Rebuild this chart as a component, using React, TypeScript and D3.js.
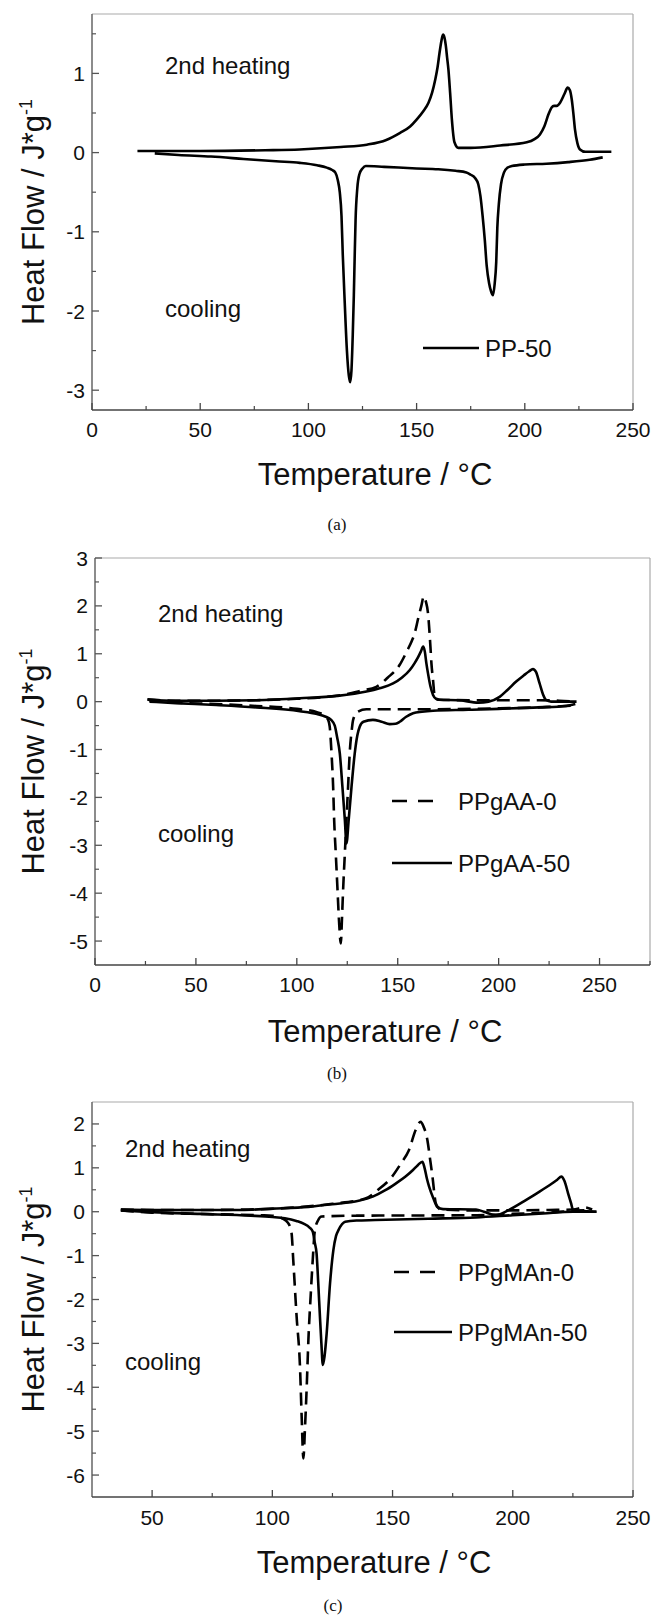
import React from 'react';
import * as d3 from 'd3';

// ---- panel (a): PP-50 ----
const ppHeatT = [21, 50, 80, 96, 115, 127, 136, 142.4, 147, 150.1, 153, 155.5, 157.2, 158.6, 159.7, 160.6, 161.4, 162.2, 162.9, 163.5, 164.1, 164.7, 165.5, 166.3, 167.5, 169.3, 175, 188.6, 200.9, 204.5, 207, 209, 210.9, 212.4, 213.5, 214.8, 216.3, 218.3, 219.8, 220.8, 221.7, 222.5, 223.2, 224.3, 225.5, 228, 240];
const ppHeatHF = [0.02, 0.02, 0.03, 0.04, 0.07, 0.1, 0.16, 0.25, 0.33, 0.42, 0.52, 0.63, 0.76, 0.92, 1.08, 1.26, 1.4, 1.49, 1.45, 1.35, 1.2, 1.05, 0.75, 0.42, 0.13, 0.06, 0.06, 0.09, 0.13, 0.17, 0.23, 0.33, 0.48, 0.57, 0.59, 0.59, 0.63, 0.74, 0.82, 0.79, 0.67, 0.48, 0.29, 0.12, 0.04, 0.01, 0.01];
const ppCoolT = [29, 40, 55, 70, 85, 96, 104, 108.5, 111, 112.4, 113.6, 114.5, 115.3, 115.9, 116.8, 117.8, 118.7, 119.3, 119.9, 120.5, 121, 121.4, 121.8, 122.6, 123.6, 125, 126.5, 135, 150, 160, 168, 173, 175, 177, 178.5, 179.5, 180.5, 181.5, 182.4, 183.5, 184.5, 185.3, 186.1, 186.8, 187.3, 188, 189, 190.4, 192, 194, 200, 210, 220, 230, 236];
const ppCoolHF = [-0.01, -0.03, -0.05, -0.08, -0.11, -0.13, -0.16, -0.19, -0.22, -0.25, -0.35, -0.5, -0.8, -1.3, -1.9, -2.5, -2.82, -2.9, -2.75, -2.3, -1.8, -1.3, -0.85, -0.45, -0.27, -0.2, -0.17, -0.18, -0.2, -0.21, -0.23, -0.25, -0.28, -0.32, -0.4, -0.55, -0.8, -1.1, -1.43, -1.65, -1.76, -1.8, -1.65, -1.38, -0.95, -0.65, -0.4, -0.25, -0.19, -0.17, -0.15, -0.14, -0.12, -0.09, -0.06];

// ---- panel (b): PPgAA-0 (dashed) / PPgAA-50 (solid) ----
const aa50HeatT = [26, 40, 60, 80, 101.5, 120, 134.5, 141, 147.7, 152, 156, 158.3, 160.1, 161.5, 162.6, 163.4, 164.2, 165, 166.2, 167.5, 169, 170.8, 180, 190, 195, 200.5, 204.5, 208.7, 212.5, 215, 217, 218.5, 220.3, 222, 223.4, 226, 238.6];
const aa50HeatHF = [0.04, 0.02, 0.02, 0.03, 0.07, 0.12, 0.21, 0.28, 0.38, 0.5, 0.66, 0.8, 0.93, 1.05, 1.15, 1.05, 0.8, 0.59, 0.32, 0.14, 0.06, 0.04, 0.03, -0.02, 0.0, 0.1, 0.25, 0.42, 0.55, 0.63, 0.68, 0.62, 0.38, 0.15, 0.04, 0.0, 0.0];
const aa0HeatT = [26, 40, 60, 80, 100, 115, 125, 132, 139.4, 145, 151, 154.5, 156.8, 158.4, 160.2, 161.7, 162.9, 163.9, 165, 166.2, 166.7, 167.5, 168.3, 170, 185, 200, 220, 230, 238];
const aa0HeatHF = [0.05, 0.02, 0.02, 0.03, 0.06, 0.1, 0.16, 0.23, 0.31, 0.5, 0.77, 1.05, 1.25, 1.43, 1.75, 2.0, 2.2, 2.1, 1.85, 1.15, 0.8, 0.45, 0.12, 0.04, 0.03, 0.03, 0.03, 0.02, 0.0];
const aa50CoolT = [27, 40, 60, 80, 101.5, 110, 114, 117, 118.8, 120, 121.3, 122.6, 123.8, 124.6, 125.7, 127.1, 128.7, 130, 131.2, 133, 137.7, 142, 146, 149, 151, 154, 157.6, 162, 167.5, 185, 200, 220, 233.5, 238];
const aa50CoolHF = [0.0, -0.03, -0.07, -0.12, -0.2, -0.26, -0.31, -0.38, -0.5, -0.75, -1.08, -1.78, -2.47, -2.96, -2.47, -1.78, -1.08, -0.7, -0.52, -0.42, -0.38, -0.42, -0.47, -0.46, -0.42, -0.32, -0.24, -0.21, -0.19, -0.17, -0.15, -0.12, -0.09, -0.05];
const aa0CoolT = [27, 40, 60, 80, 100, 110, 114, 115.5, 116.3, 117.2, 118, 118.5, 119.3, 120.1, 120.9, 121.8, 122.4, 123, 123.8, 124.6, 125.4, 126.2, 127.2, 127.9, 130.3, 134.5, 159.3, 200.5, 225, 237];
const aa0CoolHF = [0.02, -0.02, -0.05, -0.09, -0.15, -0.22, -0.3, -0.38, -0.52, -1.08, -1.78, -2.47, -3.17, -3.87, -4.57, -5.05, -4.5, -3.87, -3.17, -2.47, -1.78, -1.08, -0.6, -0.38, -0.21, -0.16, -0.16, -0.14, -0.11, -0.08];

// ---- panel (c): PPgMAn-0 (dashed) / PPgMAn-50 (solid) ----
const man50HeatT = [37, 50, 70, 87, 100, 115, 125, 135.9, 142, 147, 151, 155.4, 158.5, 160.5, 162.4, 163.3, 164.3, 165.2, 167, 168.6, 171, 184.7, 188, 193, 198, 205.6, 210, 215.4, 218.5, 220.2, 221.5, 223, 224.2, 225.1, 228, 234.8];
const man50HeatHF = [0.05, 0.04, 0.04, 0.04, 0.07, 0.11, 0.17, 0.25, 0.35, 0.49, 0.63, 0.8, 0.95, 1.06, 1.14, 1.0, 0.75, 0.57, 0.3, 0.11, 0.06, 0.05, 0.0, -0.08, 0.03, 0.27, 0.42, 0.61, 0.73, 0.8, 0.7, 0.42, 0.2, 0.04, 0.02, 0.0];
const man0HeatT = [37, 50, 70, 90, 110, 125, 138.7, 144, 149.8, 153.5, 156.8, 159.6, 161.7, 162.8, 164.5, 165.6, 166.6, 168, 170, 185, 200, 215, 225, 230, 233];
const man0HeatHF = [0.05, 0.04, 0.04, 0.05, 0.1, 0.18, 0.3, 0.5, 0.8, 1.1, 1.4, 1.86, 2.05, 1.95, 1.63, 1.2, 0.8, 0.19, 0.05, 0.03, 0.03, 0.04, 0.05, 0.1, 0.05];
const man50CoolT = [37, 50, 70, 91, 100, 105.2, 110, 113, 115.5, 116.8, 117.7, 118.4, 119.1, 119.8, 120.4, 121, 121.7, 122.6, 124, 125.4, 126.5, 127.5, 130.3, 135, 142.8, 165, 184.7, 200, 212.6, 225, 234.8];
const man50CoolHF = [0.03, -0.01, -0.05, -0.09, -0.12, -0.15, -0.21, -0.27, -0.36, -0.45, -0.72, -0.95, -1.63, -2.39, -3.0, -3.49, -3.3, -2.77, -1.63, -0.87, -0.55, -0.42, -0.23, -0.2, -0.19, -0.16, -0.13, -0.08, -0.04, 0.0, 0.0];
const man0CoolT = [37, 50, 70, 95, 100, 104, 106.6, 108, 108.7, 110.1, 111.5, 112.2, 112.9, 113.6, 114.3, 115, 116, 116.8, 117.7, 119, 120.5, 135, 185, 200, 215, 230, 233];
const man0CoolHF = [0.03, -0.02, -0.05, -0.08, -0.09, -0.15, -0.26, -0.49, -1.1, -2.39, -3.53, -4.67, -5.62, -4.9, -3.99, -2.92, -1.86, -1.1, -0.42, -0.2, -0.11, -0.09, -0.08, -0.05, -0.02, 0.03, 0.0];

// ---- ticks ----
const xTicksAB = ['0', '50', '100', '150', '200', '250'];
const xTicksC = ['50', '100', '150', '200', '250'];
const yTicksA = ['-3', '-2', '-1', '0', '1'];
const yTicksB = ['-5', '-4', '-3', '-2', '-1', '0', '1', '2', '3'];
const yTicksC = ['-6', '-5', '-4', '-3', '-2', '-1', '0', '1', '2'];

const FONT = "'Liberation Sans', Arial, Helvetica, sans-serif";
const DASH = '13,7';

type Series = { t: number[]; hf: number[]; dashed: boolean };
type LegendItem = { label: string; dashed: boolean; x1: number; x2: number; tx: number; y: number };

type PanelProps = {
  left: number; right: number; top: number; bottom: number;
  xDomain: [number, number]; yDomain: [number, number];
  xTicks: string[]; yTicks: string[];
  series: Series[];
  legend: LegendItem[];
  heatPos: [number, number]; coolPos: [number, number];
  xTickY: number; xTitle: [number, number]; caption: [string, number, number];
};

const Panel = (p: PanelProps) => {
  const x = d3.scaleLinear().domain(p.xDomain).range([p.left, p.right]);
  const y = d3.scaleLinear().domain(p.yDomain).range([p.bottom, p.top]);
  const line = d3.line<[number, number]>()
    .x(d => x(d[0]))
    .y(d => y(d[1]))
    .curve(d3.curveMonotoneX);

  const xMinor = d3.range(Math.ceil(p.xDomain[0] / 25) * 25, p.xDomain[1] + 0.01, 25)
    .filter(v => v % 50 !== 0 && v > p.xDomain[0]);
  const yMinor = d3.range(Math.ceil(p.yDomain[0] * 2) / 2, p.yDomain[1] + 0.01, 0.5)
    .filter(v => v % 1 !== 0 && v > p.yDomain[0] && v < p.yDomain[1]);
  const midY = (p.top + p.bottom) / 2;

  return (
    <g>
      {/* frame */}
      <line x1={p.left} x2={p.right} y1={p.top} y2={p.top} stroke="#aaa" strokeWidth={1.2} />
      <line x1={p.right} x2={p.right} y1={p.top} y2={p.bottom} stroke="#aaa" strokeWidth={1.2} />
      <line x1={p.left} x2={p.left} y1={p.top} y2={p.bottom} stroke="#666" strokeWidth={1.5} />
      <line x1={p.left} x2={p.right} y1={p.bottom} y2={p.bottom} stroke="#444" strokeWidth={1.5} />

      {/* x ticks */}
      {p.xTicks.map(t => (
        <g key={'xt' + t}>
          <line x1={x(+t)} x2={x(+t)} y1={p.bottom} y2={p.bottom - 7} stroke="#444" strokeWidth={1.3} />
          <text x={x(+t)} y={p.xTickY} textAnchor="middle" fontSize={21} fontFamily={FONT} fill="#111">{t}</text>
        </g>
      ))}
      {xMinor.map(v => (
        <line key={'xm' + v} x1={x(v)} x2={x(v)} y1={p.bottom} y2={p.bottom - 4} stroke="#444" strokeWidth={1.2} />
      ))}

      {/* y ticks */}
      {p.yTicks.map(t => (
        <g key={'yt' + t}>
          <line x1={p.left} x2={p.left + 7} y1={y(+t)} y2={y(+t)} stroke="#555" strokeWidth={1.3} />
          <text x={p.left - 7} y={y(+t) + 7.5} textAnchor="end" fontSize={21} fontFamily={FONT} fill="#111">{t}</text>
        </g>
      ))}
      {yMinor.map(v => (
        <line key={'ym' + v} x1={p.left} x2={p.left + 4} y1={y(v)} y2={y(v)} stroke="#555" strokeWidth={1.2} />
      ))}

      {/* curves */}
      {p.series.map((s, i) => (
        <path key={'s' + i}
          d={line(s.t.map((t, j) => [t, s.hf[j]] as [number, number])) || ''}
          fill="none" stroke="#000" strokeWidth={2.6}
          strokeDasharray={s.dashed ? DASH : undefined}
          strokeLinejoin="round" />
      ))}

      {/* annotations */}
      <text x={p.heatPos[0]} y={p.heatPos[1]} fontSize={24} fontFamily={FONT} fill="#111">2nd heating</text>
      <text x={p.coolPos[0]} y={p.coolPos[1]} fontSize={24} fontFamily={FONT} fill="#111">cooling</text>

      {/* legend */}
      {p.legend.map(l => (
        <g key={l.label}>
          <line x1={l.x1} x2={l.x2} y1={l.y} y2={l.y} stroke="#000" strokeWidth={2.6}
            strokeDasharray={l.dashed ? '15,11' : undefined} />
          <text x={l.tx} y={l.y + 8.5} fontSize={24} fontFamily={FONT} fill="#111">{l.label}</text>
        </g>
      ))}

      {/* axis titles */}
      <text x={p.xTitle[0]} y={p.xTitle[1]} textAnchor="middle" fontSize={31} fontFamily={FONT} fill="#111">Temperature / °C</text>
      <text transform={`translate(44,${midY}) rotate(-90)`} textAnchor="middle" fontSize={31} fontFamily={FONT} fill="#111">
        Heat Flow / J*g<tspan dy={-12} fontSize={18}>-1</tspan>
      </text>

      {/* caption */}
      <text x={p.caption[1]} y={p.caption[2]} textAnchor="middle" fontSize={17} fontFamily="'Liberation Serif', 'Times New Roman', serif" fill="#111">{p.caption[0]}</text>
    </g>
  );
};

export default function App() {
  return (
    <svg width={652} height={1615} style={{ position: 'absolute', left: 0, top: 0, background: '#fff' }}>
      <Panel
        left={92} right={633} top={14} bottom={410}
        xDomain={[0, 250]} yDomain={[-3.25, 1.75]}
        xTicks={xTicksAB} yTicks={yTicksA}
        series={[
          { t: ppHeatT, hf: ppHeatHF, dashed: false },
          { t: ppCoolT, hf: ppCoolHF, dashed: false },
        ]}
        legend={[{ label: 'PP-50', dashed: false, x1: 423, x2: 479, tx: 485, y: 348 }]}
        heatPos={[165, 74]} coolPos={[165, 317]}
        xTickY={437} xTitle={[375, 485]} caption={['(a)', 337, 530]}
      />
      <Panel
        left={95} right={650} top={558} bottom={965}
        xDomain={[0, 275]} yDomain={[-5.5, 3]}
        xTicks={xTicksAB} yTicks={yTicksB}
        series={[
          { t: aa0HeatT, hf: aa0HeatHF, dashed: true },
          { t: aa0CoolT, hf: aa0CoolHF, dashed: true },
          { t: aa50HeatT, hf: aa50HeatHF, dashed: false },
          { t: aa50CoolT, hf: aa50CoolHF, dashed: false },
        ]}
        legend={[
          { label: 'PPgAA-0', dashed: true, x1: 392, x2: 435, tx: 458, y: 801 },
          { label: 'PPgAA-50', dashed: false, x1: 392, x2: 452, tx: 458, y: 863 },
        ]}
        heatPos={[158, 622]} coolPos={[158, 842]}
        xTickY={992} xTitle={[385, 1042]} caption={['(b)', 337, 1079]}
      />
      <Panel
        left={92} right={633} top={1102} bottom={1497}
        xDomain={[25, 250]} yDomain={[-6.5, 2.5]}
        xTicks={xTicksC} yTicks={yTicksC}
        series={[
          { t: man0HeatT, hf: man0HeatHF, dashed: true },
          { t: man0CoolT, hf: man0CoolHF, dashed: true },
          { t: man50HeatT, hf: man50HeatHF, dashed: false },
          { t: man50CoolT, hf: man50CoolHF, dashed: false },
        ]}
        legend={[
          { label: 'PPgMAn-0', dashed: true, x1: 394, x2: 436, tx: 458, y: 1272 },
          { label: 'PPgMAn-50', dashed: false, x1: 394, x2: 452, tx: 458, y: 1332 },
        ]}
        heatPos={[125, 1157]} coolPos={[125, 1370]}
        xTickY={1525} xTitle={[374, 1573]} caption={['(c)', 333, 1611]}
      />
    </svg>
  );
}
